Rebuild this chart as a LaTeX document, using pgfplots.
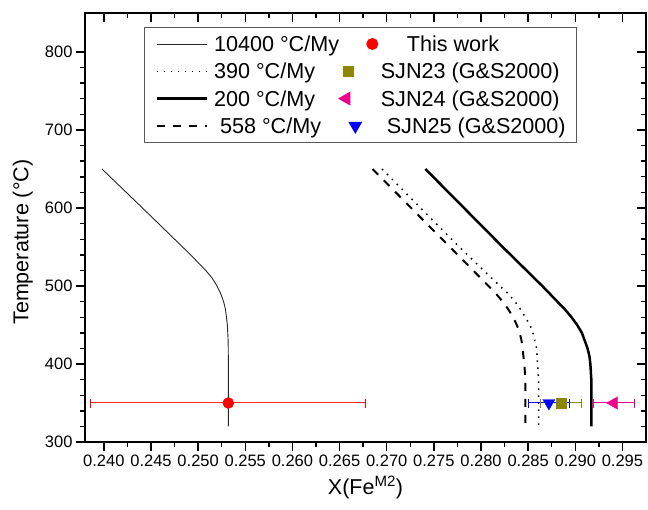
\documentclass[border=0pt]{standalone}
\usepackage{fontspec}
\setmainfont{Liberation Sans}
\usepackage{pgfplots}
\pgfplotsset{compat=1.18}
\pgfplotsset{
  lineimg/.style={legend image code/.code={\draw[##1] (0pt,0pt) -- (50pt,0pt); \path (56pt,0pt);}},
  markimg/.style={legend image code/.code={\path (-7pt,0pt) (32pt,0pt); \draw[##1] plot coordinates {(#1,0pt)};}},
  common/.style={
    at={(0pt,0pt)}, anchor=south west,
    scale only axis, width=561pt, height=429pt,
    xmin=0.238, xmax=0.2975, ymin=300, ymax=850,
    xtick={0.240,0.245,0.250,0.255,0.260,0.265,0.270,0.275,0.280,0.285,0.290,0.295},
    ytick={300,400,500,600,700,800},
    minor x tick num=1, minor y tick num=4,
    major tick length=9pt, minor tick length=5pt,
    axis line style={line width=1.5pt},
    every tick/.style={black, line width=1.4pt},
    scaled x ticks=false,
    /pgf/number format/assume math mode=true,
  }
}
\begin{document}
\begin{tikzpicture}
\path[use as bounding box] (-85pt,-67pt) rectangle (563pt,442pt);
\begin{axis}[common,
  tick align=outside, xtick pos=left, ytick pos=left,
  tick label style={font=\fontsize{16.5}{19}\selectfont},
  xticklabel style={/pgf/number format/fixed, /pgf/number format/fixed zerofill, /pgf/number format/precision=3},
  xlabel={X(Fe\textsuperscript{M2})},
  ylabel={Temperature (°C)},
  label style={font=\fontsize{21.5}{24}\selectfont},
  x label style={at={(axis description cs:0.5,-0.1224)}, anchor=base},
  y label style={at={(axis description cs:-0.111,0.466)}, anchor=center},
  legend columns=2,
  legend cell align=left,
  legend style={at={(axis description cs:0.1052,0.9674)}, anchor=north west,
    draw=black!65, line width=1pt, inner xsep=11pt, inner ysep=6pt,
    row sep=6.3pt, column sep=0pt,
    font=\fontsize{21.6}{24}\selectfont,
    nodes={inner sep=0pt, text height=18pt, text depth=3pt}},
]
% error bars (horizontal, drawn first): bar lines, then caps
\addplot[forget plot, mark=none, line width=1.3pt, red!85!white] coordinates {(0.2386,350.3) (0.2678,350.3)};
\addplot[forget plot, only marks, mark=|, mark size=4.5pt, mark options={solid, line width=1pt, draw=red}] coordinates {(0.2386,350) (0.2678,350)};
\addplot[forget plot, mark=none, line width=1.3pt, olive] coordinates {(0.2863,350.3) (0.2907,350.3)};
\addplot[forget plot, only marks, mark=|, mark size=4.5pt, mark options={solid, line width=1pt, draw=olive}] coordinates {(0.2863,350) (0.2907,350)};
\addplot[forget plot, mark=none, line width=1.3pt, magenta] coordinates {(0.2919,350.3) (0.2963,350.3)};
\addplot[forget plot, only marks, mark=|, mark size=4.5pt, mark options={solid, line width=1pt, draw=magenta}] coordinates {(0.2919,350) (0.2963,350)};
\addplot[forget plot, mark=none, line width=1.3pt, blue] coordinates {(0.2850,350.3) (0.2894,350.3)};
\addplot[forget plot, only marks, mark=|, mark size=4.5pt, mark options={solid, line width=1pt, draw=blue}] coordinates {(0.2850,350) (0.2894,350)};
% 10400 C/My
\addplot[lineimg, black!85, line width=0.9pt] coordinates {
(0.2398,650) (0.2441,600) (0.2475,560) (0.2492,540) (0.2500,530) (0.2508,520)
(0.2515,510) (0.2520,500) (0.2524,490) (0.2527,480) (0.2529,470) (0.2530,460)
(0.2531,450) (0.25318,430) (0.2532,410) (0.2532,380) (0.2532,320)};
\addlegendentry{10400 °C/My}
% This work
\addplot[markimg=24pt, only marks, red, mark=*, mark size=5.5pt, mark options={solid, fill=red, draw=red}]
  coordinates {(0.2532,350)};
\addlegendentry{\hspace{26pt}This work}
% 390 C/My
\addplot[lineimg, black, line width=1.5pt, dash pattern=on 1.5pt off 5.5pt] coordinates {
(0.2695,650) (0.2736,600) (0.2777,550) (0.2820,500) (0.2829,490) (0.2836,480)
(0.2842,470) (0.2847,460) (0.2852,450) (0.2855,440) (0.2857,430) (0.2859,420)
(0.2860,400) (0.2861,380) (0.2861,320)};
\addlegendentry{390 °C/My}
% SJN23
\addplot[markimg=0pt, only marks, olive, mark=square*, mark size=5pt, mark options={solid, fill=olive, draw=olive}]
  coordinates {(0.2885,350)};
\addlegendentry{SJN23 (G\&S2000)}
% 200 C/My
\addplot[lineimg, black, line width=2.5pt] coordinates {
(0.2741,650) (0.2782,600) (0.2823,550) (0.2865,500) (0.2873,490) (0.2881,480)
(0.2889,470) (0.2896,460) (0.2902,450) (0.2907,440) (0.2910,430) (0.2913,420)
(0.2915,410) (0.2916,400) (0.2917,380) (0.2917,320)};
\addlegendentry{200 °C/My}
% SJN24
\addplot[markimg=-2pt, only marks, magenta, mark=triangle*, mark size=7.2pt, mark options={solid, fill=magenta, draw=magenta, rotate=90}]
  coordinates {(0.2941,350)};
\addlegendentry{SJN24 (G\&S2000)}
% 558 C/My
\addplot[lineimg, black, line width=2pt, dash pattern=on 8pt off 8pt] coordinates {
(0.2685,650) (0.2726,600) (0.2767,550) (0.2808,500) (0.2816,490) (0.2823,480)
(0.2829,470) (0.2834,460) (0.2838,450) (0.2841,440) (0.2843,430) (0.2844,420)
(0.2846,400) (0.2847,380) (0.2847,320)};
\addlegendentry{\hspace{6pt}558 °C/My}
% SJN25
\addplot[markimg=7pt, only marks, blue, mark=triangle*, mark size=7pt, mark options={solid, fill=blue, draw=blue, rotate=180}]
  coordinates {(0.2872,350)};
\addlegendentry{\hspace{6pt}SJN25 (G\&S2000)}
\end{axis}
\begin{axis}[common,
  tick align=inside, xtick pos=right, ytick pos=right,
  xticklabels={}, yticklabels={}]
\end{axis}
\end{tikzpicture}
\end{document}
